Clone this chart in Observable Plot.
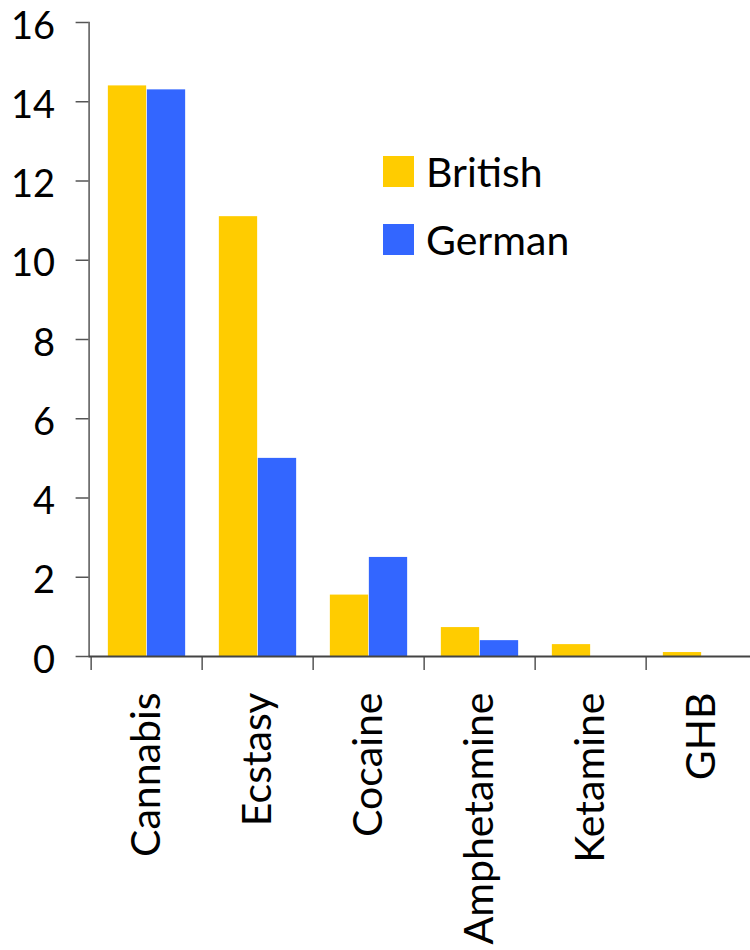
<!DOCTYPE html>
<html><head><meta charset="utf-8">
<script src="https://cdn.jsdelivr.net/npm/d3@7"></script>
<script src="https://cdn.jsdelivr.net/npm/@observablehq/plot@0.6"></script>
<style>
body{margin:0;background:#fff;}
#wrap{position:relative;width:750px;height:950px;font-family:Lato,sans-serif;background:#fff;}
#wrap svg{display:block;}
.legend{position:absolute;left:383px;top:156px;}
.item{display:flex;align-items:center;height:31px;margin-bottom:37px;}
.sw{width:31px;height:31px;margin-right:12px;}
.lab{font-size:41px;color:#000;line-height:31px;}
</style></head><body><div id="wrap"></div>
<script>
const drugs = ["Cannabis", "Ecstasy", "Cocaine", "Amphetamine", "Ketamine", "GHB"];
const british = [14.4, 11.1, 1.55, 0.73, 0.3, 0.1];
const german = [14.3, 5.0, 2.5, 0.4, 0, 0];
const yTicks = [0, 2, 4, 6, 8, 10, 12, 14, 16];
const seriesNames = ["British", "German"];
const seriesColors = ["#FFCC00", "#3366FF"];

const left = 88.6, step = 111.7, gap = 16.85, barW = 39;
const rows = (vals) => drugs.map((d, i) => ({drug: d, value: vals[i]}));

const chart = Plot.plot({
  width: 750, height: 950,
  marginLeft: left, marginRight: 0, marginTop: 22, marginBottom: 294,
  style: {fontFamily: "Lato, sans-serif", background: "white", color: "#000"},
  x: {type: "band", domain: drugs, range: [left, left + step * drugs.length], padding: 0},
  y: {domain: [0, 16], ticks: yTicks},
  marks: [
    Plot.barY(rows(british), {x: "drug", y: "value", fill: seriesColors[0], insetLeft: gap, insetRight: step - gap - barW}),
    Plot.barY(rows(german), {x: "drug", y: "value", fill: seriesColors[1], insetLeft: gap + barW, insetRight: step - gap - 2 * barW}),
    Plot.frame({anchor: "left", stroke: "#555", strokeWidth: 1.5}),
    Plot.axisY({ticks: yTicks, tickSize: 13, fill: "none", stroke: "#555", strokeWidth: 1.5, label: null}),
    Plot.axisY({ticks: yTicks, tickSize: 13, tickPadding: 21, dy: 4, fontSize: 38, stroke: "none", fill: "#000", label: null}),
    Plot.axisX({fill: "none", tickSize: 14, dx: -step / 2, stroke: "#555", strokeWidth: 1.5}),
    Plot.axisX({stroke: "none", tickSize: 0, tickPadding: 36, tickRotate: -90, fontSize: 41, fill: "#000", label: null}),
    Plot.ruleY([0], {stroke: "#444", strokeWidth: 2})
  ]
});
const wrap = document.getElementById("wrap");
wrap.appendChild(chart);
const leg = document.createElement("div");
leg.className = "legend";
seriesNames.forEach((n, i) => {
  const it = document.createElement("div"); it.className = "item";
  const sw = document.createElement("div"); sw.className = "sw"; sw.style.background = seriesColors[i];
  const lb = document.createElement("span"); lb.className = "lab"; lb.textContent = n;
  it.appendChild(sw); it.appendChild(lb); leg.appendChild(it);
});
wrap.appendChild(leg);
</script></body></html>
